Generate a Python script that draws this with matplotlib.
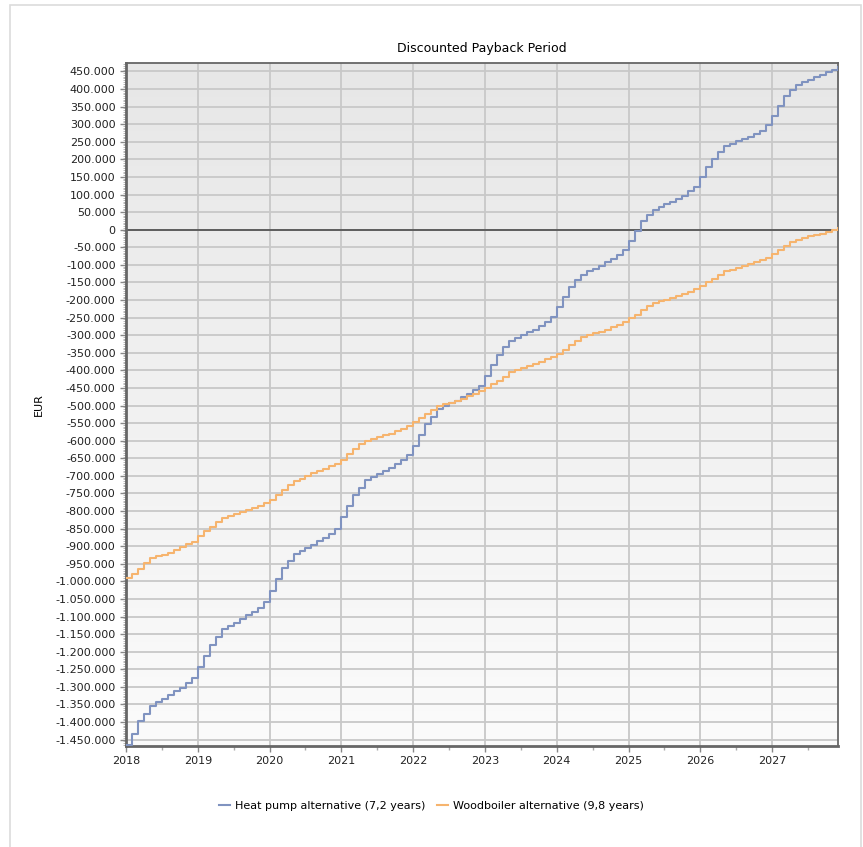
import numpy as np
import matplotlib
matplotlib.use("Agg")
import matplotlib.pyplot as plt
from matplotlib.colors import LinearSegmentedColormap
from matplotlib.ticker import FuncFormatter, MultipleLocator
from matplotlib.patches import Rectangle

# monthly cumulative discounted cash flow, thousands EUR, Jan 2018 .. Dec 2027
heat_pump = [
    -1465, -1434, -1398, -1378, -1353, -1342, -1334, -1324, -1313, -1303, -1289, -1275,
    -1244, -1213, -1180, -1157, -1135, -1126, -1117, -1108, -1095, -1086, -1075, -1059,
    -1027, -994, -962, -942, -921, -913, -904, -896, -886, -876, -865, -850,
    -816, -786, -755, -735, -713, -704, -696, -686, -677, -667, -655, -640,
    -614, -584, -552, -533, -510, -501, -493, -486, -475, -467, -455, -443,
    -416, -386, -357, -334, -316, -307, -299, -292, -284, -274, -262, -248,
    -220, -191, -164, -144, -128, -118, -111, -102, -93, -83, -71, -59,
    -33, -5, 24, 43, 57, 64, 72, 80, 87, 97, 109, 121,
    149, 177, 202, 221, 237, 244, 251, 258, 265, 273, 282, 298,
    324, 352, 379, 396, 412, 419, 426, 434, 440, 447, 455, 464,
]
woodboiler = [
    -989, -980, -965, -949, -934, -929, -924, -918, -910, -903, -895, -887,
    -872, -858, -845, -832, -821, -815, -809, -803, -797, -791, -785, -777,
    -768, -754, -740, -726, -715, -709, -701, -693, -686, -679, -672, -665,
    -654, -638, -623, -609, -601, -596, -590, -585, -580, -573, -566, -559,
    -547, -536, -524, -512, -502, -497, -492, -487, -481, -474, -467, -460,
    -450, -440, -430, -418, -404, -399, -394, -388, -382, -376, -369, -363,
    -352, -341, -329, -316, -305, -300, -295, -290, -284, -278, -271, -263,
    -252, -242, -229, -218, -208, -204, -199, -194, -189, -183, -177, -170,
    -161, -150, -140, -128, -118, -114, -109, -104, -98, -93, -87, -80,
    -69, -59, -47, -36, -28, -24, -19, -15, -11, -7, -2, 4,
]
years = list(range(2018, 2028))
labels = ["Heat pump alternative (7,2 years)", "Woodboiler alternative (9,8 years)"]
colors = ["#8093c0", "#f6b46e"]

months = 2018 + np.arange(len(heat_pump)) / 12.0
hp = np.array(heat_pump) * 1000
wb = np.array(woodboiler) * 1000

fig = plt.figure(figsize=(8.63, 8.47), dpi=100)
fig.patches.append(Rectangle((10 / 863, -0.01), 851 / 863, 1 - 5 / 847 + 0.01,
                             transform=fig.transFigure, fill=False,
                             edgecolor="#dcdcdc", linewidth=1.2))
ax = fig.add_axes([126 / 863, 1 - 746 / 847, (838 - 126) / 863, (746 - 63) / 847])

# grey-to-white gradient background
cmap_bg = LinearSegmentedColormap.from_list("bg", ["#fbfbfb", "#e7e7e7"])
grad = np.linspace(0, 1, 256).reshape(-1, 1)
ax.imshow(grad, extent=[0, 1, 0, 1], transform=ax.transAxes, cmap=cmap_bg,
          aspect="auto", origin="lower", zorder=0)

ax.step(months, hp, where="post", color=colors[0], lw=1.5, label=labels[0], zorder=3)
ax.step(months, wb, where="post", color=colors[1], lw=1.5, label=labels[1], zorder=3)
ax.axhline(0, color="#555555", lw=1.3, zorder=2)

ax.set_xlim(2018, 2018 + 119 / 12)
ax.set_ylim(-1468000, 474000)
ax.set_xticks(years)
ax.set_xticklabels([str(y) for y in years])
ax.xaxis.set_minor_locator(MultipleLocator(0.5))
ax.yaxis.set_major_locator(MultipleLocator(50000))
ax.yaxis.set_minor_locator(MultipleLocator(5000))
ax.yaxis.set_major_formatter(FuncFormatter(lambda v, p: f"{int(round(v)):,}".replace(",", ".")))

ax.grid(True, which="major", color="#c8c8c8", lw=1.3, zorder=1)
ax.set_axisbelow(True)
for s in ax.spines.values():
    s.set_color("#666666")
    s.set_linewidth(1.3)
ax.spines["left"].set_linewidth(2)
ax.spines["bottom"].set_linewidth(2)

ax.tick_params(axis="both", which="major", labelsize=8, colors="#888888",
               labelcolor="#222222", length=4, width=1)
ax.tick_params(axis="y", which="minor", length=2, width=0.6, colors="#aaaaaa")
ax.tick_params(axis="x", which="minor", length=3, width=1, colors="#aaaaaa")

ax.set_ylabel("EUR", fontsize=8, labelpad=8)
ax.set_title("Discounted Payback Period", fontsize=9, pad=8)

fig.legend(loc="center", bbox_to_anchor=(0.5, 1 - 806 / 847), ncol=2, frameon=False,
           fontsize=8, handlelength=1.0, handletextpad=0.5, columnspacing=1.0)

fig.savefig("out.png", dpi=100)
